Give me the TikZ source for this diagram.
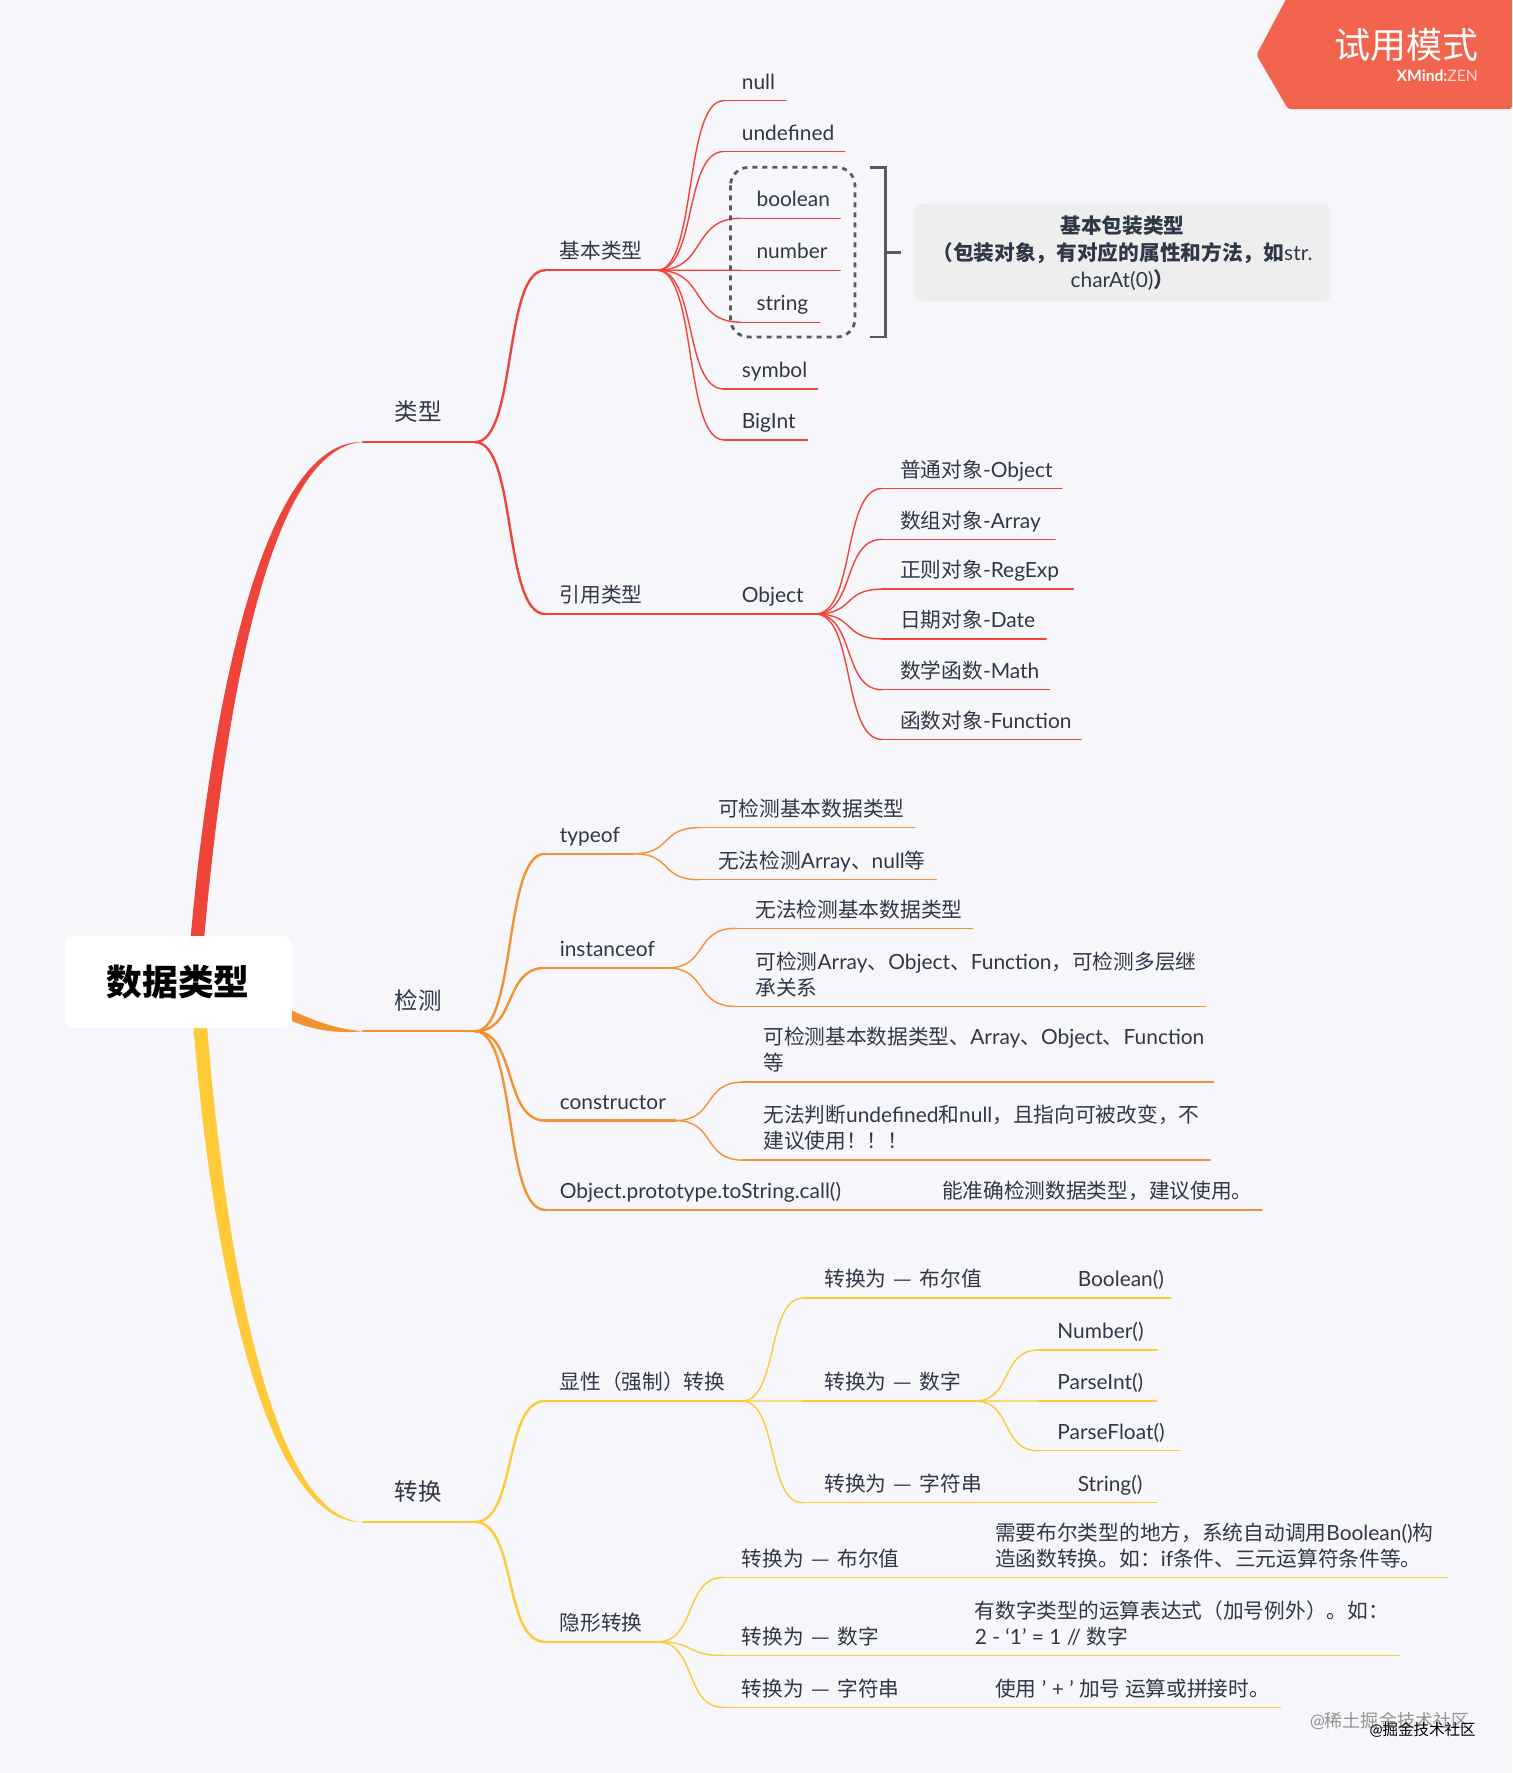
\documentclass[tikz,border=0pt]{standalone}
\usepackage{fontspec}
\setmainfont[Scale=1.01]{Lato}
\newfontfamily\cjkf{Noto Sans CJK SC}
\newcommand\Z[1]{{\cjkf #1}}
\newcommand\Dash{\hspace{2.8pt} — \hspace{2.8pt}}
\usetikzlibrary{calc}
\definecolor{bgc}{HTML}{F6F6FB}
\definecolor{txt}{HTML}{2E3848}
\definecolor{redb}{HTML}{EE4439}
\definecolor{orab}{HTML}{F39232}
\definecolor{yelb}{HTML}{FFC938}
\definecolor{gr}{HTML}{58595B}
\definecolor{tagc}{HTML}{F2644E}
\colorlet{br}{redb}
\def\toff{10}
\newcommand\topic[7]{%
  \coordinate (#1S) at (#3,#5);
  \coordinate (#1E) at (#6,#5);
  \draw[#2] (#1S) -- (#1E);
  \node[lab,anchor=base west] (#1) at ({#4},{#5-\toff}) {#7};
}
\newcommand\cnx[3]{%
  \draw[#3] (#1E) .. controls ($(#1E)!.6!(#2S |- #1E)$) and ($(#2S)!.6!(#1E |- #2S)$) .. (#2S);
}
\tikzset{
  lab/.style={inner sep=0pt,outer sep=0pt,text=txt,align=left,font=\fontsize{20.7}{26}\selectfont},
  thk/.style={draw=br,line width=2.4pt,line cap=round},
  thn/.style={draw=br,line width=1.4pt,line cap=round},
  callout/.style={fill=black!6.5,rounded corners=9pt,inner sep=0pt,minimum width=417pt,minimum height=98pt,text=txt,align=center,font=\fontsize{20.7}{27}\selectfont},
  rootbox/.style={fill=white,rounded corners=9pt,inner sep=0pt,minimum width=227pt,minimum height=92pt,text=black,font=\fontsize{35.7}{40}\selectfont\bfseries},
}
\begin{document}
\begin{tikzpicture}[x=1.13089pt,y=-1.13074pt]
\fill[bgc] (0,0) rectangle (1337,1568);
\useasboundingbox (0,0) rectangle (1337,1568);

% main branch anchors
\coordinate (rootN1) at (168.5,830);
\coordinate (rootN2) at (180.5,830);
\coordinate (rootS1) at (171,907);
\coordinate (rootS2) at (183,907);
\coordinate (rootE1) at (258,893.5);
\coordinate (rootE2) at (258,903);

% ---------- red ----------
\colorlet{br}{redb}
\def\toff{19}
\topic{lei}{thk}{321}{349}{391}{420}{\fontsize{23.5}{26}\selectfont\Z{类型}}
\def\toff{10}
\fill[redb] (rootN1) .. controls (189,599) and (238,388) .. (leiS) .. controls (243,394) and (201,601) .. (rootN2) -- cycle;
\topic{jb}{thk}{482}{495}{239}{581}{\Z{基本类型}}
\topic{yy}{thk}{482}{495}{543}{580}{\Z{引用类型}}
\cnx{lei}{jb}{thk}
\cnx{lei}{yy}{thk}
\topic{tnull}{thn}{640}{656}{89}{695}{null}
\topic{tund}{thn}{640}{656}{134}{747}{undefined}
\topic{tbool}{thn}{655}{669}{193}{743}{boolean}
\topic{tnum}{thn}{655}{669}{239}{743}{number}
\topic{tstr}{thn}{655}{669}{285}{725}{string}
\topic{tsym}{thn}{640}{656}{344}{723}{symbol}
\topic{tbig}{thn}{640}{656}{389}{714}{BigInt}
\foreach \c in {tnull,tund,tbool,tnum,tstr,tsym,tbig}{\cnx{jb}{\c}{thn}}
\draw[gr,line width=2.8pt,dash pattern=on 5pt off 5pt,rounded corners=18pt] (646,148) rectangle (756,298);
\coordinate (brA) at (769,148);
\coordinate (brB) at (783,148);
\coordinate (brC) at (783,298);
\coordinate (brD) at (769,298);
\coordinate (brM) at (783,223);
\coordinate (brN) at (797,223);
\draw[gr,line width=2.8pt] (brA) -- (brB) -- (brC) -- (brD);
\draw[gr,line width=2.8pt] (brM) -- (brN);
\node[callout] (note) at (992.5,223.5) {\bfseries\Z{基本包装类型}\\\bfseries\Z{（包装对象，有对应的属性和方法，如}{\mdseries str.}\\{\mdseries charAt(0)}\bfseries\Z{）}};
\topic{obj}{thn}{580}{656}{543}{721}{Object}
\draw[thn] (yyE) -- (objS);
\topic{o1}{thn}{780}{796}{432}{939}{\Z{普通对象}-Object}
\topic{o2}{thn}{780}{796}{477}{933}{\Z{数组对象}-Array}
\topic{o3}{thn}{780}{796}{521}{949}{\Z{正则对象}-RegExp}
\topic{o4}{thn}{780}{796}{565}{925}{\Z{日期对象}-Date}
\topic{o5}{thn}{780}{796}{610}{928}{\Z{数学函数}-Math}
\topic{o6}{thn}{780}{796}{654}{956}{\Z{函数对象}-Function}
\foreach \c in {o1,o2,o3,o4,o5,o6}{\cnx{obj}{\c}{thn}}

% ---------- orange ----------
\colorlet{br}{orab}
\def\toff{19}
\topic{jc}{thk}{321}{349}{912}{420}{\fontsize{23.5}{26}\selectfont\Z{检测}}
\def\toff{10}
\fill[orab] (rootE1) .. controls (280,904) and (300,910.5) .. (jcS) .. controls (300,914) and (280,912) .. (rootE2) -- cycle;
\topic{ty}{thk}{482}{495}{755}{560}{typeof}
\topic{ins}{thk}{482}{495}{856}{590}{instanceof}
\topic{con}{thk}{482}{495}{991}{597}{constructor}
\topic{ots}{thk}{482}{495}{1070}{756}{Object.prototype.toString.call()}
\foreach \c in {ty,ins,con,ots}{\cnx{jc}{\c}{thk}}
\topic{ty1}{thn}{618}{635}{732}{809}{\Z{可检测基本数据类型}}
\topic{ty2}{thn}{618}{635}{778}{828}{\Z{无法检测}Array\Z{、}null\Z{等}}
\cnx{ty}{ty1}{thn}
\cnx{ty}{ty2}{thn}
\topic{in1}{thn}{650}{668}{821}{860}{\Z{无法检测基本数据类型}}
\topic{in2}{thn}{650}{668}{890}{1066}{\Z{可检测}Array\Z{、}Object\Z{、}Function\Z{，可检测多层继}\\\Z{承关系}}
\cnx{ins}{in1}{thn}
\cnx{ins}{in2}{thn}
\topic{co1}{thn}{657}{675}{957}{1073}{\Z{可检测基本数据类型、}Array\Z{、}Object\Z{、}Function\\\Z{等}}
\topic{co2}{thn}{657}{675}{1026}{1070}{\Z{无法判断}undefined\Z{和}null\Z{，且指向可被改变，不}\\\Z{建议使用！！！}}
\cnx{con}{co1}{thn}
\cnx{con}{co2}{thn}
\topic{ot1}{thn}{756}{833}{1070}{1116}{\Z{能准确检测数据类型，建议使用。}}

% ---------- yellow ----------
\colorlet{br}{yelb}
\def\toff{19}
\topic{zh}{thk}{321}{349}{1346}{420}{\fontsize{23.5}{26}\selectfont\Z{转换}}
\def\toff{10}
\fill[yelb] (rootS1) .. controls (189,1131) and (238,1349) .. (zhS) .. controls (243,1343) and (201,1129) .. (rootS2) -- cycle;
\topic{xs}{thk}{482}{495}{1239}{656}{\Z{显性（强制）转换}}
\topic{yx}{thk}{482}{495}{1452}{581}{\Z{隐形转换}}
\cnx{zh}{xs}{thk}
\cnx{zh}{yx}{thk}
\topic{xa}{thn}{710}{729}{1148}{925}{\Z{转换为\Dash 布尔值}}
\topic{xb}{thn}{710}{729}{1239}{862}{\Z{转换为\Dash 数字}}
\topic{xc}{thn}{710}{729}{1329}{925}{\Z{转换为\Dash 字符串}}
\foreach \c in {xa,xb,xc}{\cnx{xs}{\c}{thn}}
\topic{xa1}{thn}{925}{953}{1148}{1035}{Boolean()}
\topic{xc1}{thn}{925}{953}{1329}{1023}{String()}
\topic{xb1}{thn}{918}{935}{1194}{1023}{Number()}
\topic{xb2}{thn}{918}{935}{1239}{1023}{ParseInt()}
\topic{xb3}{thn}{918}{935}{1283}{1043}{ParseFloat()}
\foreach \c in {xb1,xb2,xb3}{\cnx{xb}{\c}{thn}}
\topic{ya}{thn}{640}{656}{1395}{850}{\Z{转换为\Dash 布尔值}}
\topic{yb}{thn}{640}{656}{1464}{840}{\Z{转换为\Dash 数字}}
\topic{yc}{thn}{640}{656}{1510}{850}{\Z{转换为\Dash 字符串}}
\foreach \c in {ya,yb,yc}{\cnx{yx}{\c}{thn}}
\topic{ya1}{thn}{850}{880}{1395}{1280}{\Z{需要布尔类型的地方，系统自动调用}Boolean()\Z{构}\\\Z{造函数转换。如：}if\Z{条件、三元运算符条件等。}}
\topic{yb1}{thn}{840}{862}{1464}{1237}{\Z{有数字类型的运算表达式（加号例外）。如：}\\2 - ‘1’ = 1 // \Z{数字}}
\topic{yc1}{thn}{850}{880}{1510}{1132}{\Z{使用} ' + ' \Z{加号 运算或拼接时。}}

% root
\node[rootbox] (root) at (157.5,868.5) {\Z{数据类型}};

% trial tag
\fill[tagc,rounded corners=3pt] (1140,-6) -- (1111,48.5) -- (1139,96.5) -- (1337,96.5) -- (1337,-6) -- cycle;
\node[anchor=east,inner sep=0pt,text=white,font=\fontsize{36}{40}\selectfont] (tagA) at (1307.5,40) {\Z{试用模式}};
\node[anchor=east,inner sep=0pt,text=white,font=\fontsize{15.5}{18}\selectfont] (tagB) at (1307,67) {\textbf{XMind:}{\color{white!75!tagc}ZEN}};

% watermarks
\node[anchor=west,inner sep=0pt,text=black!42,font=\fontsize{18}{20}\selectfont] (wmA) at (1158,1522) {@\Z{稀土掘金技术社区}};
\node[anchor=east,inner sep=0pt,text=black,font=\fontsize{15.5}{18}\selectfont] (wmB) at (1305,1530) {@\Z{掘金技术社区}};
\end{tikzpicture}
\end{document}
